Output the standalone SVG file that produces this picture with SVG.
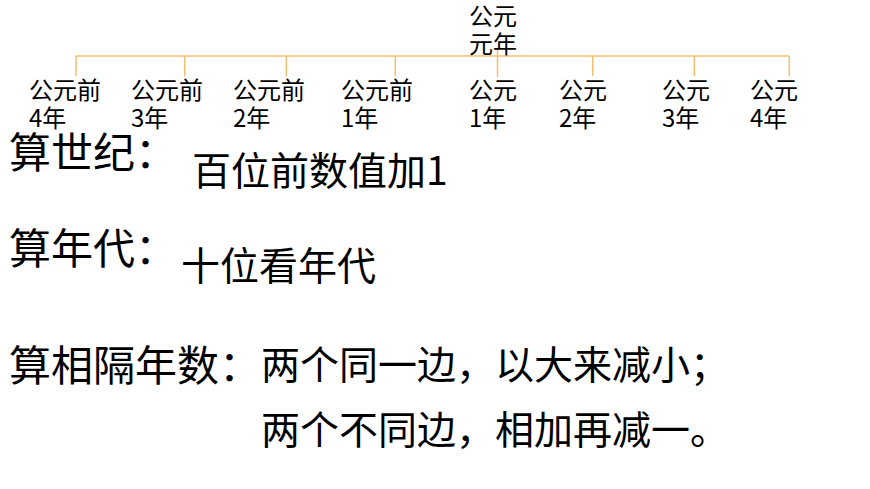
<svg xmlns="http://www.w3.org/2000/svg" width="870" height="489" viewBox="0 0 870 489">
<style>
.t{font-family:"Microsoft YaHei","Noto Sans CJK SC","Noto Sans",sans-serif;fill:#000}
.s{font-size:24px}
.h{font-size:42px}
.r{font-size:39px}
.ln{stroke:#F5BE6E;stroke-width:1.5;fill:none}
</style>
<rect width="870" height="489" fill="#fff"/>
<g id="connectors">
<path class="ln" d="M76,56 H789"/>
<path class="ln" d="M76,56 V76 M184.7,56 V76 M286.3,56 V76 M395.3,56 V76 M497.5,48 V77 M592.7,56 V76 M694.3,56 V76 M789.3,56 V76"/>
</g>
<g id="n-root"><text class="t s" x="469" y="25">公元</text><text class="t s" x="469" y="53">元年</text></g>
<g id="n-bc4"><text class="t s" x="29" y="99">公元前</text><text class="t s" x="29" y="127">4年</text></g>
<g id="n-bc3"><text class="t s" x="131" y="99">公元前</text><text class="t s" x="131" y="127">3年</text></g>
<g id="n-bc2"><text class="t s" x="233" y="99">公元前</text><text class="t s" x="233" y="127">2年</text></g>
<g id="n-bc1"><text class="t s" x="341" y="99">公元前</text><text class="t s" x="341" y="127">1年</text></g>
<g id="n-ad1"><text class="t s" x="469" y="99">公元</text><text class="t s" x="469" y="127">1年</text></g>
<g id="n-ad2"><text class="t s" x="559" y="99">公元</text><text class="t s" x="559" y="127">2年</text></g>
<g id="n-ad3"><text class="t s" x="662" y="99">公元</text><text class="t s" x="662" y="127">3年</text></g>
<g id="n-ad4"><text class="t s" x="750" y="99">公元</text><text class="t s" x="750" y="127">4年</text></g>
<g id="rules">
<text class="t h" x="9" y="168">算世纪：</text>
<text class="t r" x="192" y="185">百位前数值加1</text>
<text class="t h" x="9" y="264">算年代：</text>
<text class="t r" x="181" y="280">十位看年代</text>
<text class="t h" x="9" y="381">算相隔年数：</text>
<text class="t r" x="261" y="379">两个同一边，以大来减小；</text>
<text class="t r" x="261" y="444">两个不同边，相加再减一。</text>
</g>
</svg>
